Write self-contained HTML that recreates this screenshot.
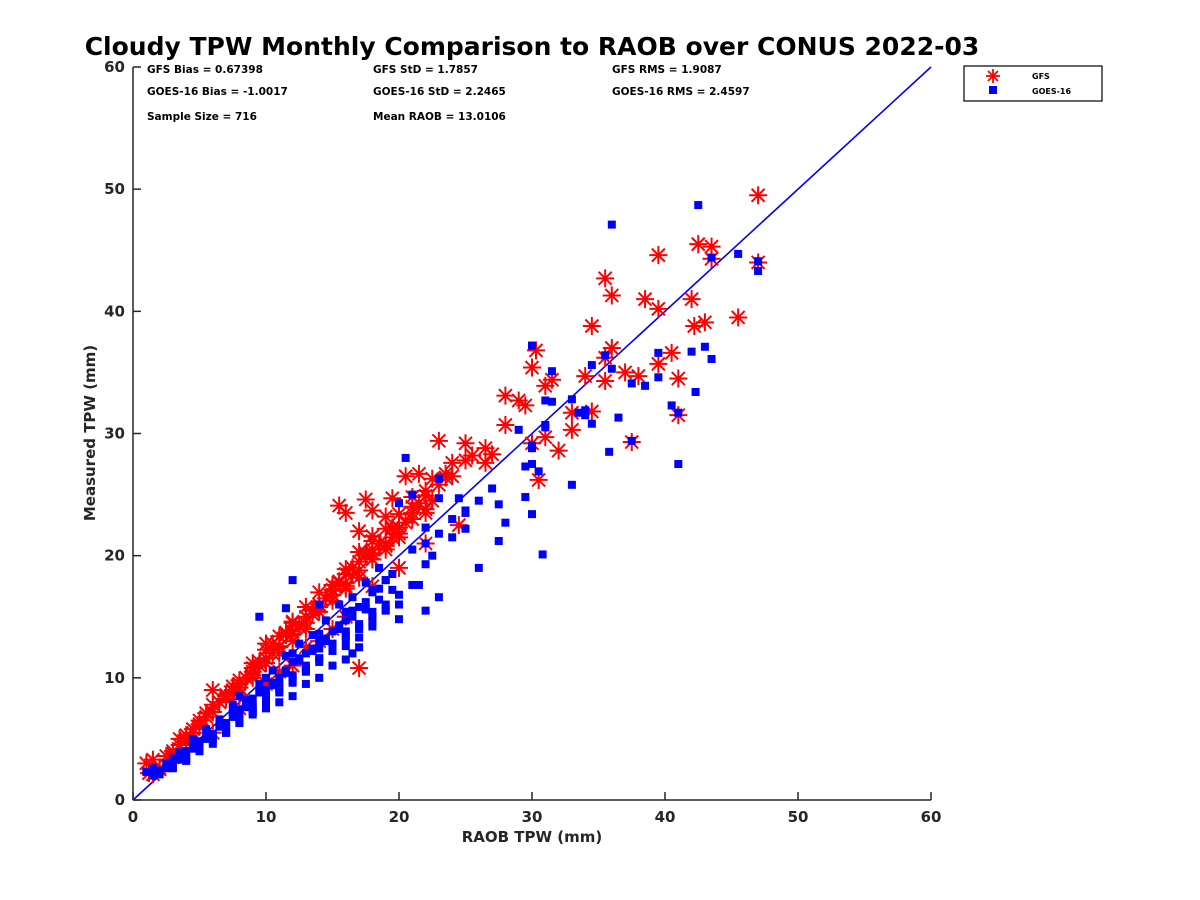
<!DOCTYPE html>
<html><head><meta charset="utf-8"><style>
html,body{margin:0;padding:0;background:#fff;}
svg{display:block;font-family:"DejaVu Sans","Liberation Sans",sans-serif;}
</style></head><body>
<svg id="chart" width="1200" height="900" viewBox="0 0 1200 900">
<text x="532" y="55" text-anchor="middle" font-size="25" font-weight="bold" fill="#000">Cloudy TPW Monthly Comparison to RAOB over CONUS 2022-03</text>
<g id="marks"></g>
<g id="axes"></g>
<g font-size="10.5" font-weight="bold" fill="#000">
<text x="147" y="73">GFS Bias = 0.67398</text>
<text x="373" y="73">GFS StD = 1.7857</text>
<text x="612" y="73">GFS RMS = 1.9087</text>
<text x="147" y="95">GOES-16 Bias = -1.0017</text>
<text x="373" y="95">GOES-16 StD = 2.2465</text>
<text x="612" y="95">GOES-16 RMS = 2.4597</text>
<text x="147" y="120">Sample Size = 716</text>
<text x="373" y="120">Mean RAOB = 13.0106</text>
</g>
<g>
<rect x="964" y="66" width="138" height="35" fill="#fff" stroke="#000" stroke-width="1.2"/>
<g>
<g stroke="#ff0000" stroke-width="1.8" transform="translate(993,76)">
<line x1="-7" y1="0" x2="7" y2="0"/><line x1="0" y1="-7" x2="0" y2="7"/><line x1="-5" y1="-5" x2="5" y2="5"/><line x1="-5" y1="5" x2="5" y2="-5"/></g>
<text x="1032" y="79" font-size="8" font-weight="bold">GFS</text></g>
<g>
<rect x="989" y="86" width="8" height="8" fill="#0000ff"/>
<text x="1032" y="94" font-size="8" font-weight="bold">GOES-16</text></g>
</g>
</svg>
<script>
const xTicks=[0,10,20,30,40,50,60];
const yTicks=[0,10,20,30,40,50,60];
const gfsX=[47,47,43.5,42.5,43.5,39.5,35.5,36,38.5,39.5,42,45.5,42.2,43,34.5,30.3,36,35.5,30,40.5,39.5,37,38,41,35.5,31.5,31,34,28,29,29.5,33,34.5,41,33,37.5,30,31,32,30.5,28,23,25,26.5,25,24,26.5,27,22.5,23.5,20.5,21.5,22,24.5,19.5,17.5,15.5,16,18,21,19,17,18,20.5,17,
1,1.2,1.5,2,2.5,3,3.5,4,4.5,5,5.5,6,6.5,7,7.5,8,8.5,9,9.5,10,10.5,11,11.5,12,12.5,13,13.5,14,14.5,15,15.5,16,16.5,17,17.5,18,18.5,19,19.5,20,
2,3,4,5,6,7,8,9,10,11,12,13,14,15,16,17,18,19,20,21,22,
1.5,3,4.5,6,7.5,9,10.5,12,13.5,15,16.5,18,19.5,21,22.5,24,
6,8,10,12,14,16,18,20,22,11,13,15,
4,5,6,7,8,9,10,11,12,13,14,15,16,17,18,19,20,21,22,23,
3.5,5.5,7.5,9.5,11.5,13.5,15.5,17.5,19.5,21.5,23.5,25.5,
8,10,12,14,16,18,20,22,9,11,13,15,17,19];
const gfsY=[49.5,44,45.3,45.5,44.3,44.6,42.7,41.3,41,40.2,41,39.5,38.8,39.1,38.8,36.8,37,36.2,35.4,36.6,35.7,35,34.7,34.5,34.3,34.4,33.9,34.7,33.1,32.7,32.3,31.7,31.8,31.5,30.3,29.3,29.2,29.7,28.6,26.2,30.7,29.4,29.2,28.8,27.8,27.6,27.6,28.3,26.3,26.7,26.5,26.7,25.3,22.5,24.7,24.6,24.1,23.5,23.7,24.8,23.2,22,21.6,22.7,10.8,
3,2.2,3.3,2.6,3.6,3.8,4.5,5.3,5.8,6,6.8,7.2,8,8.3,8.9,9.5,10,10.2,11,11.6,12,12.5,13.5,13.8,14.2,15,15.5,16,16.5,17.2,17.8,18.5,18.4,19.5,20,20.2,21,21,21.5,22.3,
2.5,3.5,5,6.5,7.2,8.6,9.2,10.8,12.3,12.6,13.6,14.5,15.8,16.8,17.5,18.8,19.7,20.5,21.8,23,23.5,
2.1,4,5.5,9,9,10.5,12.8,14.5,15.2,16.8,19,20.5,22.3,23.5,24.5,26.5,
5.5,7.5,9.5,11,13,15,17.5,19,21,10.5,12.5,14,
4.8,6.2,7.8,8.5,9.8,11.2,12.8,13.4,14.6,15.8,17,17.6,18.9,20.3,21.2,22.2,23.4,24,24.9,25.8,
5,7.1,9.3,11.3,13.7,15.5,17.9,20.2,22.2,24.3,26.4,28.2,
8.6,11.2,13,15.4,17.3,19.7,21.5,23.8,10,12,14,16.3,18.2,20.8];
const goesX=[42.5,36,45.5,47,47,43.5,30,35.5,39.5,42,43,43.5,36,31.5,34.5,37.5,39.5,38.5,42.3,31,31.5,33,34,33.5,34,34.5,36.5,40.5,41,29,31,30,31,37.5,30,30,29.5,30.5,35.8,41,33,29.5,30,30.8,26,27.5,28,27.5,25,25,24.5,23,22,22.5,24,20.5,23,21,20,22,21.5,20,22,23,18,
1,1.5,2,2.5,3,3.5,4,4.5,5,5.5,6,6.5,7,7.5,8,8.5,9,9.5,10,10.5,11,11.5,12,12.5,13,13.5,14,14.5,15,15.5,16,16.5,17,17.5,18,18.5,19,19.5,
2,3,4,5,6,7,8,9,10,11,12,13,14,15,16,17,18,19,20,
1.5,2.5,3.5,4.5,5.5,6.5,7.5,8.5,9.5,10.5,11.5,12.5,13.5,14.5,15.5,16.5,17.5,18.5,
5,7,9,11,13,15,17,6,8,10,12,14,16,9.5,12,14,16.5,11.5,
4,5,6,7,8,9,10,11,12,13,14,15,16,17,18,19,20,21,
4.5,5.5,6.5,7.5,8.5,9.5,10.5,11.5,12.5,13.5,14.5,15.5,16.5,17.5,18.5,19.5,
7,8,9,10,11,12,13,14,15,16,17,18,19,
3,4,5,6,7,8,9,10,11,12,13,14,15,16,17,18,
22,23,24,25,26,27,21,19,18,16,14,12,10,8];
const goesY=[48.7,47.1,44.7,44.1,43.3,44.4,37.2,36.4,36.6,36.7,37.1,36.1,35.3,35.1,35.6,34.1,34.6,33.9,33.4,32.7,32.6,32.8,31.9,31.7,31.5,30.8,31.3,32.3,31.7,30.3,30.5,29,30.7,29.4,28.8,27.5,27.3,26.9,28.5,27.5,25.8,24.8,23.4,20.1,19,24.2,22.7,21.2,22.2,23.7,24.7,24.7,22.3,20,21.5,28,26.3,25,24.3,19.3,17.6,14.8,15.5,16.6,15,
2.3,2,2.4,2.6,2.8,3.3,3.5,4.2,4.6,5,5.4,6,6.3,6.8,7.4,7.6,8.3,8.8,9,9.6,10,10.4,11.3,11.6,12,12.2,13,13.2,13.8,14.3,14.7,15.5,15.8,16.2,17,17.3,18,18.5,
2.1,2.6,3.4,4,4.6,5.5,6.3,7.3,8,8.8,9.6,10.5,11.3,12.2,12.6,13.3,14.2,15.5,16,
2.6,3,3.9,5,5.8,6.6,7.8,8.2,9.5,10.6,11.8,12.8,13.5,14.7,16,16.6,17.8,19,
4,5.5,7,8,9.5,11,12.5,5,6.5,7.5,8.5,10,11.5,15,18,16,12,15.7,
3.2,4.2,5.2,5.6,6.6,7.2,8.4,9,10.2,10.8,11.6,12.6,13.4,14.2,15,16,16.8,17.6,
4.4,5.2,6.2,7.2,8,9,9.4,10.6,11.4,12.4,13,14,15,15.6,16.4,17.2,
6.2,7,7.8,8.6,9.2,9.8,10.6,11.6,12.6,13.2,14,14.6,15.6,
3.4,4,4.8,5.2,6,7,7.6,8.6,9.6,10.2,11,12.4,12.8,13.8,14.4,15.4,
21,21.8,23,23.5,24.5,25.5,20.5,18,17.2,15.4,13.6,12,10,8.5];
const NS="http://www.w3.org/2000/svg";
const X0=133,X1=931,Y0=800,Y1=67;
function sx(v){return X0+(v-0)/(60-0)*(X1-X0);}
function sy(v){return Y0-(v-0)/(60-0)*(Y0-Y1);}
function mk(tag,attrs,parent){const e=document.createElementNS(NS,tag);for(const k in attrs)e.setAttribute(k,attrs[k]);parent.appendChild(e);return e;}
const marks=document.getElementById('marks');
const axes=document.getElementById('axes');
const diag=mk('line',{x1:sx(0),y1:sy(0),x2:sx(60),y2:sy(60),stroke:'#0000ff','stroke-width':1.6},marks);


for(let i=0;i<gfsX.length;i++){
  const g=mk('g',{transform:'translate('+sx(gfsX[i])+','+sy(gfsY[i])+')',stroke:'#ff0000','stroke-width':2},marks);
  
  
  mk('line',{x1:-9,y1:0,x2:9,y2:0},g);mk('line',{x1:0,y1:-9,x2:0,y2:9},g);
  mk('line',{x1:-6.5,y1:-6.5,x2:6.5,y2:6.5},g);mk('line',{x1:-6.5,y1:6.5,x2:6.5,y2:-6.5},g);
}
for(let i=0;i<goesX.length;i++){
  const r=mk('rect',{x:sx(goesX[i])-4,y:sy(goesY[i])-4,width:8,height:8,fill:'#0000ff'},marks);
  
  
}
const xa=mk('line',{x1:X0,y1:Y0,x2:X1,y2:Y0,stroke:'#262626','stroke-width':1.5},axes);


const ya=mk('line',{x1:X0,y1:Y0,x2:X0,y2:Y1,stroke:'#262626','stroke-width':1.5},axes);


xTicks.forEach(t=>{
  mk('line',{x1:sx(t),y1:Y0,x2:sx(t),y2:Y0-8,stroke:'#262626','stroke-width':1.5},axes);
  const tx=mk('text',{x:sx(t),y:Y0+22,'text-anchor':'middle','font-size':15,'font-weight':'bold',fill:'#262626'},axes);
  tx.textContent=t;
  
  
});
yTicks.forEach(t=>{
  mk('line',{x1:X0,y1:sy(t),x2:X0+8,y2:sy(t),stroke:'#262626','stroke-width':1.5},axes);
  const tx=mk('text',{x:X0-8,y:sy(t)+5,'text-anchor':'end','font-size':15,'font-weight':'bold',fill:'#262626'},axes);
  tx.textContent=t;
  
  
});
const xt=mk('text',{x:532,y:842,'text-anchor':'middle','font-size':15,'font-weight':'bold',fill:'#262626'},axes);
xt.textContent='RAOB TPW (mm)';


const yt=mk('text',{x:0,y:0,'text-anchor':'middle','font-size':15,'font-weight':'bold',fill:'#262626',transform:'translate(95,433) rotate(-90)'},axes);
yt.textContent='Measured TPW (mm)';


</script>
</body></html>
